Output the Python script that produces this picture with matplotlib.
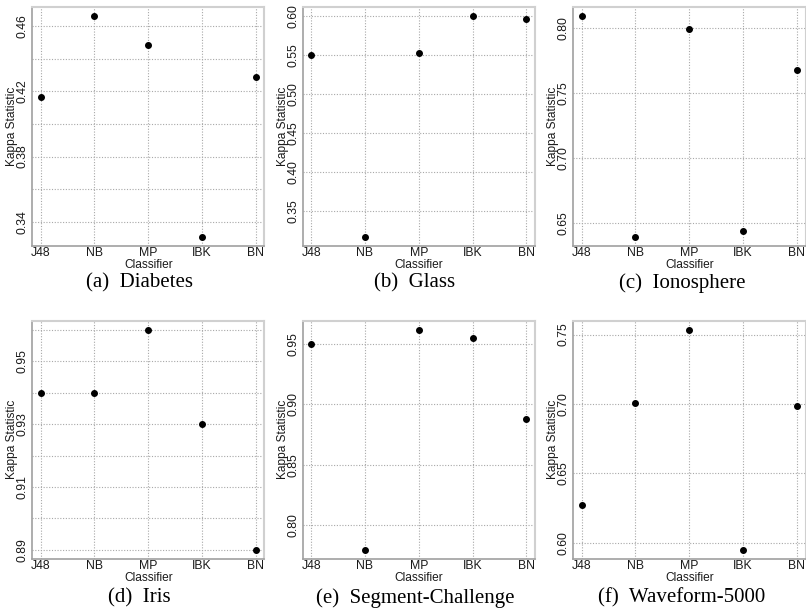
import numpy as np
import matplotlib
matplotlib.use("Agg")
import matplotlib.pyplot as plt

# ── DATA ──────────────────────────────────────────────────
classifiers = ["J48", "NB", "MP", "IBK", "BN"]

diabetes = [0.4164, 0.4664, 0.4484, 0.3305, 0.4290]
glass = [0.5502, 0.3169, 0.5528, 0.6002, 0.5965]
ionosphere = [0.8097, 0.6392, 0.7995, 0.6440, 0.7680]
iris = [0.94, 0.94, 0.96, 0.93, 0.89]
segment = [0.9500, 0.7796, 0.9616, 0.9552, 0.8880]
waveform = [0.6270, 0.7007, 0.7534, 0.5948, 0.6982]

captions = ["(a)  Diabetes", "(b)  Glass", "(c)  Ionosphere",
            "(d)  Iris", "(e)  Segment-Challenge", "(f)  Waveform-5000"]

# grid lines and which of them carry a label
grid_a = [0.34, 0.36, 0.38, 0.40, 0.42, 0.44, 0.46]
lab_a = [0.34, 0.38, 0.42, 0.46]
grid_b = [0.35, 0.40, 0.45, 0.50, 0.55, 0.60]
grid_c = [0.65, 0.70, 0.75, 0.80]
grid_d = [0.89, 0.90, 0.91, 0.92, 0.93, 0.94, 0.95, 0.96]
lab_d = [0.89, 0.91, 0.93, 0.95]
grid_e = [0.80, 0.85, 0.90, 0.95]
grid_f = [0.60, 0.65, 0.70, 0.75]

panels = [
    (diabetes, grid_a, lab_a),
    (glass, grid_b, grid_b),
    (ionosphere, grid_c, grid_c),
    (iris, grid_d, lab_d),
    (segment, grid_e, grid_e),
    (waveform, grid_f, grid_f),
]

# ── LAYOUT (pixels) ───────────────────────────────────────
W, H = 806, 613
lefts = [32, 302.5, 573]
tops = [7, 321]
heights = [239, 237.6]
width = 232.5
cap_x = [139, 415, 682]
cap_y = [283, 598]

plt.rcParams['font.family'] = ['Liberation Sans', 'DejaVu Sans']

fig = plt.figure(figsize=(W / 100, H / 100), dpi=100)

x = np.arange(1, len(classifiers) + 1)

for i, (vals, grid, labs) in enumerate(panels):
    r, c = divmod(i, 3)
    ax = fig.add_axes([lefts[c] / W, 1 - (tops[r] + heights[r]) / H,
                       width / W, heights[r] / H])

    ax.plot(x, vals, 'o', color='black', markersize=4, zorder=3)

    lo, hi = min(vals), max(vals)
    pad = 0.04 * (hi - lo)
    ax.set_ylim(lo - pad, hi + pad)
    ax.set_xlim(1 - 0.04 * 4, 5 + 0.04 * 4)

    # dotted grid like R's grid()
    for g in grid:
        ax.axhline(g, color='#a8a8a8', linestyle=(0, (1, 1.5)), linewidth=0.8, zorder=1)
    for xv in x:
        ax.axvline(xv, color='#a8a8a8', linestyle=(0, (1, 1.5)), linewidth=0.8, zorder=1)

    ax.set_yticks(grid)
    ax.set_yticklabels([f"{g:.2f}" if any(abs(g - l) < 1e-9 for l in labs) else ""
                        for g in grid], rotation=90, va='center')
    ax.set_xticks(x)
    ax.set_xticklabels(classifiers)
    ax.tick_params(axis='both', length=0, labelsize=8.8, colors='#1a1a1a')
    ax.tick_params(axis='x', pad=1)
    ax.tick_params(axis='y', pad=2.5)

    ax.set_xlabel("Classifier", fontsize=8.6, labelpad=0, color='#1a1a1a')
    ax.set_ylabel("Kappa Statistic", fontsize=8.6, color='#1a1a1a')
    ax.yaxis.set_label_coords(-0.06, 0.5)

    for side in ['left', 'bottom']:
        ax.spines[side].set_color('#a0a0a0')
        ax.spines[side].set_linewidth(1.2)
    for side in ['top', 'right']:
        ax.spines[side].set_color('#d0d0d0')
        ax.spines[side].set_linewidth(1.5)

    fig.text(cap_x[c] / W, 1 - cap_y[r] / H, captions[i], ha='center', va='center',
             family='Liberation Serif', fontsize=15)

fig.savefig('out.png', dpi=100)
